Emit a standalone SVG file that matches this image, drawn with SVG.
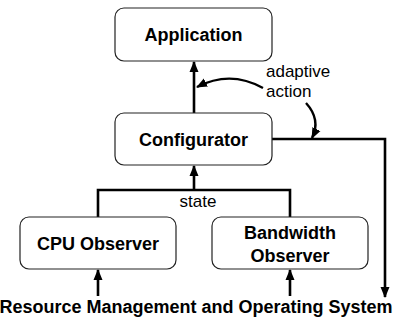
<svg xmlns="http://www.w3.org/2000/svg" width="407" height="320" viewBox="0 0 407 320">
  <style>
    .box { fill: #ffffff; stroke: #222222; stroke-width: 1.2; }
    .lbl { font-family: "Liberation Sans", Arial, sans-serif; font-size: 18px; font-weight: bold; text-anchor: middle; fill: #000000; }
    .note { font-family: "Liberation Sans", Arial, sans-serif; font-size: 17px; fill: #000000; }
    .wire { fill: none; stroke: #000000; stroke-width: 2.6; }
    .curve { fill: none; stroke: #000000; stroke-width: 2.4; }
  </style>
  <defs>
    <marker id="arrow" markerWidth="11" markerHeight="11" refX="10" refY="5.5" orient="auto" markerUnits="userSpaceOnUse">
      <path d="M0,1 L11,5.5 L0,10 Z" fill="#000000"/>
    </marker>
  </defs>

  <rect width="407" height="320" fill="#ffffff"/>

  <g id="connectors">
    <!-- Configurator to Application -->
    <line class="wire" x1="194" y1="113" x2="194" y2="62" marker-end="url(#arrow)"/>
    <!-- observers feed state into the Configurator -->
    <polyline class="wire" points="98,217 98,190 290,190 290,217"/>
    <line class="wire" x1="194" y1="190" x2="194" y2="166" marker-end="url(#arrow)"/>
    <!-- Configurator down to the operating system -->
    <polyline class="wire" points="272,139 385,139 385,297" marker-end="url(#arrow)"/>
    <!-- operating system up to the observers -->
    <line class="wire" x1="98" y1="296" x2="98" y2="270" marker-end="url(#arrow)"/>
    <line class="wire" x1="290" y1="296" x2="290" y2="270" marker-end="url(#arrow)"/>
    <!-- adaptive action pointers -->
    <path class="curve" d="M263,88 C245,78 222,74 197,87" marker-end="url(#arrow)"/>
    <path class="curve" d="M306,103 C316,114 318,126 312,138" marker-end="url(#arrow)"/>
  </g>

  <g id="application">
    <rect class="box" x="115" y="8" width="157" height="53" rx="9"/>
    <text class="lbl" x="193.5" y="41">Application</text>
  </g>

  <g id="configurator">
    <rect class="box" x="115" y="113" width="157" height="52" rx="9"/>
    <text class="lbl" x="193.5" y="146">Configurator</text>
  </g>

  <g id="cpu-observer">
    <rect class="box" x="20" y="217" width="156" height="52" rx="9"/>
    <text class="lbl" x="98" y="250">CPU Observer</text>
  </g>

  <g id="bandwidth-observer">
    <rect class="box" x="212" y="217" width="156" height="52" rx="9"/>
    <text class="lbl" x="290" y="239">Bandwidth</text>
    <text class="lbl" x="290" y="262">Observer</text>
  </g>

  <g id="labels">
    <text class="note" x="266" y="77">adaptive</text>
    <text class="note" x="266" y="97">action</text>
    <text class="note" x="198" y="207" text-anchor="middle">state</text>
    <text class="lbl" x="196" y="313" font-size="17.2">Resource Management and Operating System</text>
  </g>
</svg>
